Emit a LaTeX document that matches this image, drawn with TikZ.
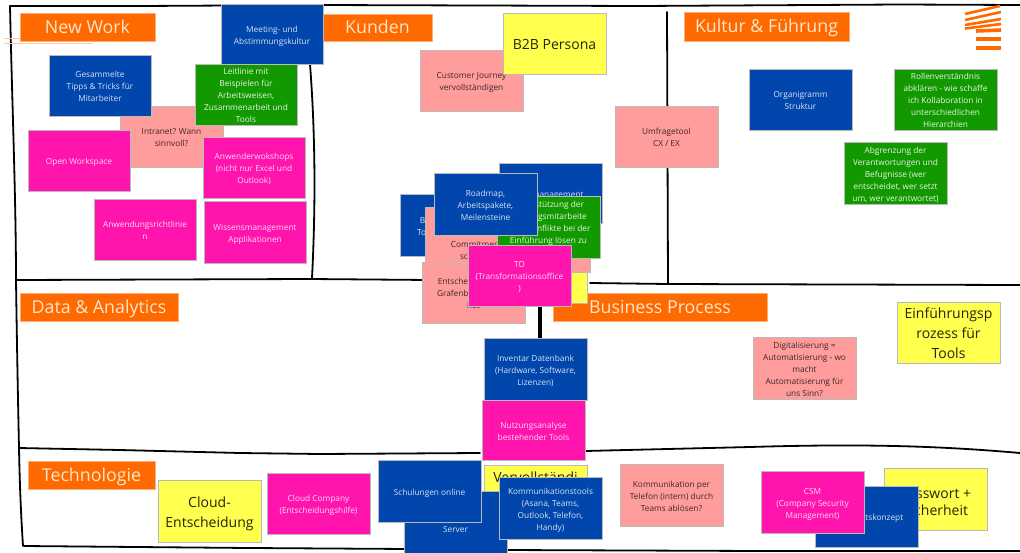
\documentclass[tikz,border=0pt]{standalone}
\usepackage{fontspec}
\setmainfont{Open Sans}
\definecolor{cblue}{HTML}{0046AD}
\definecolor{cgreen}{HTML}{129900}
\definecolor{cmag}{HTML}{FF14AE}
\definecolor{csalm}{HTML}{FF9C9C}
\definecolor{cyell}{HTML}{FFFF4D}
\definecolor{corange}{HTML}{FF6A00}
\tikzset{
  x=1pt,y=-1pt,
  card/.style={draw=black!27,line width=0.9pt,inner sep=0pt,outer sep=0pt,font=\fontsize{8.3}{12}\selectfont},
  bluecard/.style={card,fill=cblue,text=white!85!cblue},
  greencard/.style={card,fill=cgreen,text=white!90!cgreen},
  magcard/.style={card,fill=cmag,text=white!85!cmag},
  salmcard/.style={card,fill=csalm,text=black!75!csalm},
  yellcard/.style={card,fill=cyell,text=black!85!cyell,font=\fontsize{14}{20}\selectfont},
  heading/.style={draw=corange!55!white,line width=1pt,fill=corange,text=white!80!orange,inner sep=0pt,outer sep=0pt,font=\fontsize{17.8}{22}\selectfont},
  pen/.style={draw=black,line width=1.8pt,line cap=round,line join=round},
  stripe/.style={draw=corange,line width=3.6pt},
}
\newcommand\card[7]{%
  \node[#1,minimum width={(#5-#3)*1pt},minimum height={(#6-#4)*1pt}] (#2) at ({(#3+#5)/2},{(#4+#6)/2})
    {\raisebox{-2pt}[\height][\depth]{\begin{tabular}{@{}c@{}}#7\end{tabular}}};}
\begin{document}
\begin{tikzpicture}
\useasboundingbox (0,0) rectangle (1020,552);
\fill[white] (0,0) rectangle (1020,552);
% frame sketch
\draw[pen] (10,6) -- (140,6) -- (320,5) -- (640,6) -- (900,4.5) -- (1020,5);
\draw[pen] (10,6) .. controls (12,100) and (16,200) .. (16,280) .. controls (17,350) and (18,400) .. (19,448) .. controls (20,500) and (22,530) .. (23,546);
\draw[pen] (16,280) -- (310,279) -- (430,280) (590,283) -- (668,284) -- (1020,285);
\draw[pen] (19,448) -- (120,450) -- (240,453) -- (320,454) -- (480,453) (585,451) -- (750,447) .. controls (850,444) and (930,445) .. (1020,453);
\draw[pen] (24,546) -- (250,548) -- (410,549) (505,550) -- (760,551) -- (1020,551);
\draw[pen] (310,64) .. controls (315,130) and (316,200) .. (312,278);
\draw[pen] (667,12) -- (668,284);
\draw[pen,line width=3.6pt] (540,300) -- (540,340);
% logo
\draw[stripe,line width=2.6pt] (965,14) -- (1000,6);
\draw[stripe,line width=2.6pt] (965,20) -- (1001,12);
\draw[stripe,line width=2.6pt] (965,25) -- (1001,19);
\draw[stripe,line width=2.6pt] (965,28.5) -- (1001,24);
\draw[stripe] (976,31) -- (1001,30);
\draw[stripe,line width=4.4pt] (976,39) -- (1001,39);
\draw[stripe,line width=4.4pt] (976,48) -- (1001,48);
% stray lines
\draw[corange!35!white,line width=0.8pt] (4,38.5) -- (35,38.5) (4,43) -- (35,43) (20,43) -- (92,43);
% headings
\card{heading}{hNew}{20}{13}{155}{41}{New Work}
\card{heading}{hKunden}{323}{14}{432}{41}{Kunden}
\card{heading}{hKultur}{684}{12}{849}{41}{Kultur \& Führung}
\card{heading}{hData}{20}{293}{178}{321}{Data \& Analytics}
\card{heading}{hBusiness}{553}{293}{767}{321}{Business Process}
\card{heading}{hTech}{28}{461}{155}{489}{Technologie}
% New Work
\card{bluecard}{meeting}{221}{4}{323}{64}{Meeting- und\\Abstimmungskultur}
\card{salmcard}{intranet}{120}{106}{223}{167}{Intranet? Wann\\sinnvoll?}
\card{bluecard}{tipps}{49}{55}{151}{116}{Gesammelte\\Tipps \& Tricks für\\Mitarbeiter}
\card{greencard}{leitlinie}{195}{64}{297}{125}{Leitlinie mit\\Beispielen für\\Arbeitsweisen,\\Zusammenarbeit und\\Tools}
\card{magcard}{workspace}{28}{130}{130}{191}{Open Workspace}
\card{magcard}{workshops}{203}{137}{305}{198}{Anwenderwokshops\\(nicht nur Excel und\\Outlook)}
\card{magcard}{richtlinien}{94}{199}{196}{260}{Anwendungsrichtlinie\\n}
\card{magcard}{wissen}{204}{201}{306}{263}{Wissensmanagement\\Applikationen}
% Kunden
\card{salmcard}{journey}{420}{50}{523}{111}{Customer Journey\\vervollständigen}
\card{yellcard}{persona}{503}{13}{606}{74}{B2B Persona}
\card{salmcard}{umfrage}{615}{106}{718}{167}{Umfragetool\\CX / EX}
% Kultur
\card{bluecard}{organigramm}{749}{69}{852}{130}{Organigramm\\Struktur}
\card{greencard}{rollen}{894}{69}{997}{130}{Rollenverständnis\\abklären - wie schaffe\\ich Kollaboration in\\unterschiedlichen\\Hierarchien}
\card{greencard}{abgrenzung}{844}{142}{947}{204}{Abgrenzung der\\Verantwortungen und\\Befugnisse (wer\\entscheidet, wer setzt\\um, wer verantwortet)}
% centre pile
\card{bluecard}{toolsbox}{400}{194}{503}{256}{Bereitstellungen\\Tooleinführungen}
\card{yellcard}{yellowhidden}{484}{242}{587}{303}{}
\card{salmcard}{salmhidden}{487}{211}{590}{272}{}
\card{salmcard}{commitment}{425}{207}{528}{268}{\mbox{}\\\mbox{}\\Commitment\\schaffen}
\card{bluecard}{mgmt}{499}{163}{602}{223}{Zeitmanagement}
\card{greencard}{unterst}{497}{196}{600}{258}{Unterstützung der\\Führungsmitarbeite\\r um Konflikte bei der\\Einführung lösen zu\\können}
\card{bluecard}{roadmap}{434}{173}{537}{235}{Roadmap,\\Arbeitspakete,\\Meilensteine}
\card{salmcard}{grafen}{422}{262}{525}{323}{Entscheidung, was\\Grafenberger Allee\\hat}
\card{magcard}{to}{468}{245}{571}{306}{TO\\(Transformationsoffice\\)}
% Data
\card{bluecard}{inventar}{484}{338}{587}{400}{Inventar Datenbank\\(Hardware, Software,\\Lizenzen)}
\card{magcard}{nutzung}{482}{400}{585}{460}{Nutzungsanalyse\\bestehender Tools}
\card{salmcard}{digital}{753}{337}{856}{399}{Digitalisierung =\\Automatisierung - wo\\macht\\Automatisierung für\\uns Sinn?}
\card{yellcard}{einfuehrung}{897}{302}{1000}{363}{Einführungsp\\rozess für\\Tools}
% Technologie
\card{yellcard}{cloud}{158}{480}{261}{542}{Cloud-\\Entscheidung}
\card{magcard}{company}{267}{473}{370}{534}{Cloud Company\\(Entscheidungshilfe)}
\card{yellcard}{vervoll}{484}{465}{587}{527}{Vervollständi\\\mbox{}\\\mbox{}}
\card{bluecard}{server}{404}{491}{507}{553}{Cloud vs.\\Server}
\card{bluecard}{schulung}{378}{460}{481}{522}{Schulungen online}
\card{bluecard}{kommtools}{499}{477}{602}{539}{Kommunikationstools\\(Asana, Teams,\\Outlook, Telefon,\\Handy)}
\card{salmcard}{telefon}{620}{464}{723}{526}{Kommunikation per\\Telefon (intern) durch\\Teams ablösen?}
\card{yellcard}{passwort}{884}{468}{987}{530}{\raisebox{-3.5pt}[\height][\depth]{Passwort +}\\Sicherheit}
\card{bluecard}{konzept}{815}{486}{918}{547}{Sicherheitskonzept}
\card{magcard}{csm}{761}{471}{864}{533}{CSM\\(Company Security\\Management)}
\end{tikzpicture}
\end{document}
